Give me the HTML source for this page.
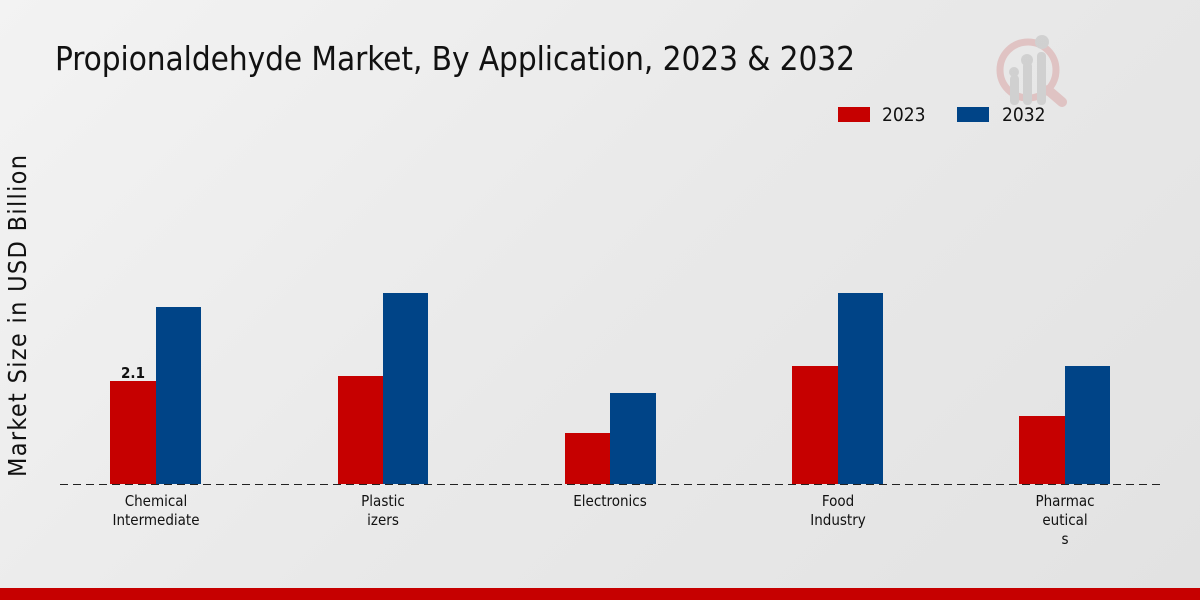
<!DOCTYPE html>
<html><head><meta charset="utf-8"><style>
html,body{margin:0;padding:0;}
body{width:1200px;height:600px;overflow:hidden;background:linear-gradient(135deg,#f3f3f3 0%,#e9e9e9 50%,#e2e2e2 100%);font-family:"DejaVu Sans Condensed","DejaVu Sans","Liberation Sans",sans-serif;font-stretch:condensed;}
</style></head><body>
<svg width="1200" height="600" xmlns="http://www.w3.org/2000/svg" style="position:absolute;left:0;top:0;font-family:'DejaVu Sans Condensed','DejaVu Sans',sans-serif;font-stretch:condensed">
<text x="55" y="70" font-size="33" fill="#111" textLength="800">Propionaldehyde Market, By Application, 2023 &amp; 2032</text>
<g opacity="0.5">
<circle cx="1028" cy="70" r="28" fill="none" stroke="#d9a0a0" stroke-width="7"/>
<line x1="1048" y1="90" x2="1062" y2="102" stroke="#d9a0a0" stroke-width="10" stroke-linecap="round"/>
<rect x="1010" y="75" width="9" height="30" rx="4" fill="#bbb"/>
<rect x="1023" y="62" width="9" height="43" rx="4" fill="#bbb"/>
<rect x="1037" y="52" width="9" height="53" rx="4" fill="#bbb"/>
<circle cx="1014" cy="72" r="5" fill="#bbb"/><circle cx="1027" cy="60" r="6" fill="#bbb"/><circle cx="1042" cy="42" r="7" fill="#bbb"/>
</g>
<rect x="838" y="107" width="32" height="15" fill="#c60000"/>
<text x="882" y="121" font-size="19" fill="#111">2023</text>
<rect x="957" y="107" width="32" height="15" fill="#004487"/>
<text x="1002" y="121" font-size="19" fill="#111">2032</text>
<text transform="translate(26,316) rotate(-90)" text-anchor="middle" font-size="25" fill="#111" textLength="322">Market Size in USD Billion</text>
<g fill="#c60000">
<rect x="110" y="381" width="46" height="103"/>
<rect x="338" y="376" width="45" height="108"/>
<rect x="565" y="433" width="45" height="51"/>
<rect x="792" y="366" width="46" height="118"/>
<rect x="1019" y="416" width="46" height="68"/>
</g>
<g fill="#004487">
<rect x="156" y="307" width="45" height="177"/>
<rect x="383" y="293" width="45" height="191"/>
<rect x="610" y="393" width="46" height="91"/>
<rect x="838" y="293" width="45" height="191"/>
<rect x="1065" y="366" width="45" height="118"/>
</g>
<line x1="60" y1="484.5" x2="1160" y2="484.5" stroke="#222" stroke-width="1" stroke-dasharray="8,5"/>
<text x="133" y="378" text-anchor="middle" font-size="15" font-weight="bold" fill="#111">2.1</text>
<g font-size="15" fill="#111" text-anchor="middle">
<text x="156" y="506">Chemical</text><text x="156" y="525">Intermediate</text>
<text x="383" y="506">Plastic</text><text x="383" y="525">izers</text>
<text x="610" y="506">Electronics</text>
<text x="838" y="506">Food</text><text x="838" y="525">Industry</text>
<text x="1065" y="506">Pharmac</text><text x="1065" y="525">eutical</text><text x="1065" y="544">s</text>
</g>
<rect x="0" y="588" width="1200" height="12" fill="#c60000"/>
</svg>
</body></html>
